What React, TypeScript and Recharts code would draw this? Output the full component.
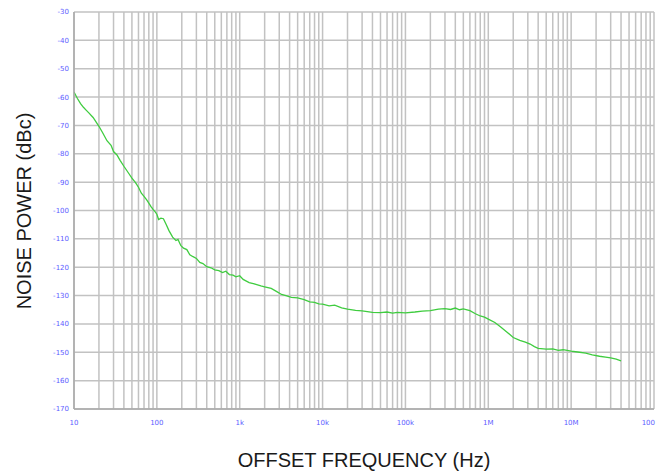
import { LineChart, Line, XAxis, YAxis, CartesianGrid } from 'recharts'

// offset frequency (Hz) and measured noise power (dBc)
const freqs = [
  10, 11, 12, 13, 14, 15, 17, 20, 22, 25, 28, 30, 33, 36, 40, 45, 50, 55, 60, 65, 70, 75, 80, 85, 90, 95,
  100, 105, 112, 120, 130, 140, 155, 170, 180, 195, 210, 230, 250, 270, 300, 330, 360, 400, 450, 500,
  560, 620, 680, 750, 830, 900, 1000, 1100, 1300, 1500, 1800, 2000, 2400, 2800, 3200, 3700, 4200, 5000,
  6000, 7000, 8000, 9000, 10000, 12000, 14000, 17000, 20000, 25000, 30000, 40000, 50000, 60000, 70000,
  80000, 100000, 130000, 160000, 200000, 250000, 300000, 350000, 400000, 450000, 500000, 600000, 700000,
  800000, 900000, 1000000, 1200000, 1400000, 1700000, 2000000, 2400000, 2800000, 3200000, 3600000,
  4000000, 5000000, 6000000, 7000000, 8000000, 10000000, 12000000, 15000000, 18000000, 22000000,
  26000000, 30000000, 35000000, 40000000,
]
const noise = [
  -58.2, -60.5, -62.3, -63.6, -64.6, -65.5, -67.2, -70.3, -72.4, -75.4, -77.0, -79.2, -80.4, -82.3, -84.4,
  -86.6, -88.6, -90.1, -91.8, -93.9, -95.0, -96.2, -97.4, -98.6, -99.6, -100.4,
  -101.3, -103.2, -102.7, -102.9, -105.0, -107.1, -109.4, -110.6, -110.2, -112.4, -113.3, -113.8, -115.6,
  -116.2, -116.9, -118.3, -118.7, -119.8, -120.2, -120.9,
  -121.2, -121.9, -121.4, -122.6, -122.8, -123.4, -123.0, -124.3, -125.4, -125.9, -126.6, -126.9, -127.5,
  -128.6, -129.6, -130.1, -130.6, -130.8,
  -131.4, -132.2, -132.4, -132.9, -133.0, -133.6, -133.4, -134.3, -134.8, -135.2, -135.4, -135.9, -136.0,
  -135.8, -136.2,
  -135.9, -136.1, -135.8, -135.5, -135.3, -134.8, -134.6, -134.9, -134.4, -135.0, -134.7, -135.3, -136.4,
  -137.2, -137.6, -138.3, -139.5, -141.0, -143.0, -144.8, -145.8, -146.4, -147.1, -148.0,
  -148.6, -148.9, -148.8, -149.3, -149.1, -149.6, -149.9, -150.3, -150.9, -151.4,
  -151.7, -152.0, -152.4, -153.0,
]

const decades = [10, 100, 1e3, 1e4, 1e5, 1e6, 1e7, 1e8]
const decadeLabels = ['10', '100', '1k', '10k', '100k', '1M', '10M', '100']
const yTicks = [-170, -160, -150, -140, -130, -120, -110, -100, -90, -80, -70, -60, -50, -40, -30]

// log grid: 1..9 in each decade
const xTicks: number[] = []
decades.forEach((d, i) => {
  if (i === decades.length - 1) { xTicks.push(d); return }
  for (let m = 1; m < 10; m++) xTicks.push(d * m)
})

const data = freqs.map((f, i) => ({ f, db: noise[i] }))

const tickStyle = { fontSize: 7, fill: '#5c5cff', fontFamily: 'DejaVu Sans' }

function FreqTick({ x, y, payload }: any) {
  const i = decades.indexOf(payload.value)
  if (i < 0) return null
  const last = i === decades.length - 1
  return (
    <text x={last ? x + 1 : x} y={y + 9} dy="0.71em" textAnchor={last ? 'end' : 'middle'} {...tickStyle}>
      {decadeLabels[i]}
    </text>
  )
}

export default function App() {
  return (
    <div style={{ position: 'absolute', left: 0, top: 0, width: 656, height: 473, background: '#fff' }}>
      <LineChart width={656} height={473} data={data}
        margin={{ top: 12, right: 2, left: 14, bottom: 34 }}>
        <CartesianGrid stroke="#c2c2c2" strokeWidth={1.5} />
        <XAxis dataKey="f" type="number" scale="log" domain={[10, 1e8]} ticks={xTicks}
          interval={0} allowDataOverflow height={30}
          axisLine={{ stroke: '#a8a8a8', strokeWidth: 1.5 }} tickLine={false}
          tickSize={0} tick={<FreqTick />} />
        <YAxis type="number" domain={[-170, -30]} ticks={yTicks} interval={0} width={60}
          axisLine={{ stroke: '#a8a8a8', strokeWidth: 1.5 }} tickLine={false}
          tickSize={0} tickMargin={5} tick={tickStyle} />
        <Line dataKey="db" stroke="#3fcc3f" strokeWidth={1.3} dot={false}
          isAnimationActive={false} />
      </LineChart>
      <div style={{
        position: 'absolute', left: 24, top: 211, transform: 'translate(-50%, -50%) rotate(-90deg)',
        fontFamily: 'Liberation Sans, Arial, sans-serif', fontSize: 20, color: '#1a1a1a', whiteSpace: 'nowrap',
      }}>NOISE POWER (dBc)</div>
      <div style={{
        position: 'absolute', left: 364, top: 460, transform: 'translate(-50%, -50%)',
        fontFamily: 'Liberation Sans, Arial, sans-serif', fontSize: 20, color: '#1a1a1a', whiteSpace: 'nowrap',
      }}>OFFSET FREQUENCY (Hz)</div>
    </div>
  )
}
